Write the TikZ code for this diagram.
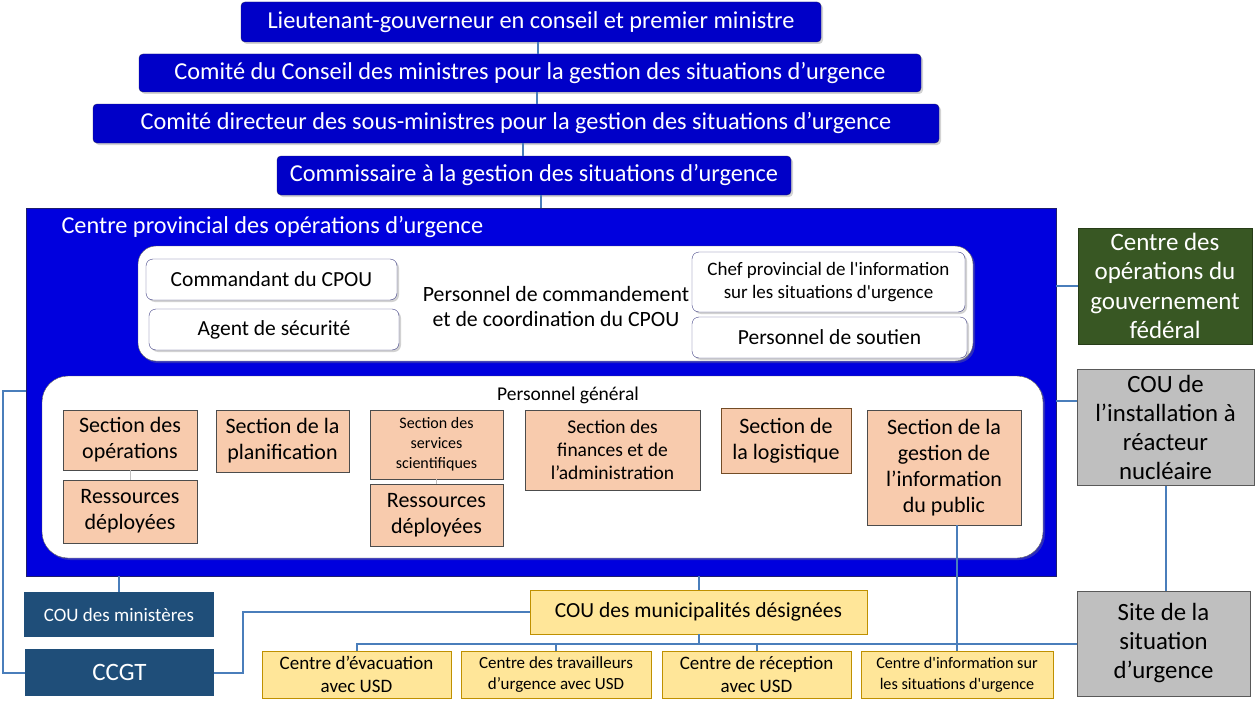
\documentclass[tikz,border=0pt]{standalone}
\usepackage{fontspec}
\setmainfont{Carlito}
\usetikzlibrary{shadows,calc}

\definecolor{cpoublue}{RGB}{0,0,222}
\definecolor{topblue}{RGB}{0,0,200}
\definecolor{navyline}{RGB}{30,30,110}
\definecolor{linkblue}{RGB}{74,126,187}
\definecolor{salmon}{RGB}{248,203,173}
\definecolor{fedgreen}{RGB}{56,87,35}
\definecolor{sitegray}{RGB}{191,191,191}
\definecolor{minblue}{RGB}{31,78,121}
\definecolor{munyellow}{RGB}{255,230,153}
\definecolor{mungold}{RGB}{191,144,0}

\newcommand{\fsz}[2]{\fontsize{#1}{#2}\selectfont}

\tikzset{
  softshadow/.style={drop shadow={opacity=0.35,shadow xshift=2pt,shadow yshift=-2pt}},
  topbox/.style={draw=navyline, fill=topblue, text=white, rounded corners=4pt,
    inner sep=0pt, font=\fsz{24.3}{28}, softshadow},
  panel/.style={draw=gray!70!black, fill=white, rounded corners=18pt, inner sep=0pt, softshadow},
  cmdbox/.style={draw=navyline!85, fill=white, rounded corners=7pt, inner sep=0pt,
    align=center, font=\fsz{21.5}{24}, softshadow},
  secbox/.style={draw=black!70, fill=salmon, inner sep=0pt, align=center, font=\fsz{22}{26}},
  fedbox/.style={draw=fedgreen!70!black, fill=fedgreen, text=white, inner sep=0pt,
    align=center, font=\fsz{25}{29.5}},
  graybox/.style={draw=black!65, fill=sitegray, inner sep=0pt, align=center,
    font=\fsz{24.8}{29}, line width=1pt},
  minbox/.style={fill=minblue, text=white, inner sep=0pt, align=center},
  munbox/.style={draw=mungold, fill=munyellow, inner sep=0pt, align=center},
  link/.style={draw=linkblue, line width=2pt},
  thinlink/.style={draw=black!25, line width=0.6pt}
}

\begin{document}
\begin{tikzpicture}[x=1pt,y=-1pt]
  \useasboundingbox (0,0) rectangle (1259,709);

  % chain of command
  \node[topbox, minimum width=580, minimum height=40] (lgc) at (531,22)
    {Lieutenant-gouverneur en conseil et premier ministre};
  \node[topbox, minimum width=782, minimum height=38] (ccm) at (530,73)
    {Comité du Conseil des ministres pour la gestion des situations d’urgence};
  \node[topbox, minimum width=846, minimum height=39] (cdsm) at (516,123.5)
    {Comité directeur des sous-ministres pour la gestion des situations d’urgence};
  \node[topbox, minimum width=514, minimum height=39] (comm) at (534,175.5)
    {Commissaire à la gestion des situations d’urgence};

  % CPOU
  \node[draw=navyline, fill=cpoublue, minimum width=1030, minimum height=368, inner sep=0pt]
    (cpou) at (541,392) {};
  \node[anchor=west, text=white, font=\fsz{24.3}{28}] (cpoutitle) at (58,227)
    {Centre provincial des opérations d’urgence};

  \foreach \a/\b in {lgc/ccm, ccm/cdsm, cdsm/comm, comm/cpou}
    \draw[link] ($(\a.south)+(7,0)$) -- ($(\a.south |- \b.north)+(7,0)$);

  % command staff
  \node[panel, minimum width=835, minimum height=115] (cmd) at (555.5,303.5) {};
  \node[cmdbox, minimum width=251, minimum height=41] (cmdt) at (271.5,279.5) {Commandant du CPOU};
  \node[cmdbox, minimum width=250, minimum height=41] (agent) at (274,329.5) {Agent de sécurité};
  \node[align=center, font=\fsz{21.8}{25}] (cmdlabel) at (556,307)
    {Personnel de commandement\\et de coordination du CPOU};
  \node[cmdbox, minimum width=273, minimum height=60, font=\fsz{19}{23}] (chef) at (828.5,282)
    {Chef provincial de l\textquotesingle information\\sur les situations d\textquotesingle urgence};
  \node[cmdbox, minimum width=275, minimum height=41] (soutien) at (829.5,337.5) {Personnel de soutien};

  % general staff
  \node[panel, rounded corners=26pt, minimum width=1001, minimum height=182] (gen) at (542.5,467) {};
  \node[font=\fsz{19.5}{22}] (genlabel) at (568,395) {Personnel général};
  \node[secbox, minimum width=134, minimum height=60] (secops) at (130,440) {Section des\\opérations};
  \node[secbox, minimum width=134, minimum height=63] (res1) at (130,511.5) {Ressources\\déployées};
  \node[secbox, minimum width=133, minimum height=62] (secplan) at (282.5,441) {Section de la\\planification};
  \node[secbox, minimum width=133, minimum height=69, font=\fsz{16}{20}] (secsci) at (436.5,444.5)
    {Section des\\services\\scientifiques};
  \node[secbox, minimum width=133, minimum height=62] (res2) at (436.5,515) {Ressources\\déployées};
  \node[secbox, minimum width=175, minimum height=80, font=\fsz{19.5}{23}] (secfin) at (612.5,450)
    {Section des\\finances et de\\l’administration};
  \node[secbox, draw=brown!60!black, line width=1pt, minimum width=130, minimum height=65] (seclog) at (786,440.5)
    {Section de\\la logistique};
  \node[secbox, minimum width=154, minimum height=115] (secinfo) at (944,467.5)
    {Section de la\\gestion de\\l’information\\du public};
  \draw[thinlink] (secops) -- (res1);
  \draw[thinlink] (secsci) -- (res2);

  % outside partners
  \node[fedbox, minimum width=174, minimum height=116] (cogf) at (1165,286)
    {Centre des\\opérations du\\gouvernement\\fédéral};
  \node[graybox, minimum width=177, minimum height=116] (couinst) at (1165.5,427)
    {COU de\\l’installation à\\réacteur\\nucléaire};
  \node[graybox, minimum width=173, minimum height=105] (site) at (1163.5,643.5)
    {Site de la\\situation\\d’urgence};

  \node[minbox, minimum width=190, minimum height=45, font=\fsz{19}{22}] (coumin) at (119,614.5) {COU des ministères};
  \node[minbox, minimum width=189, minimum height=47, font=\fsz{25}{28}] (ccgt) at (119.5,672.5) {CCGT};
  \node[munbox, minimum width=337, minimum height=44, font=\fsz{21.5}{25}] (coumun) at (698.5,612)
    {COU des municipalités désignées};
  \node[munbox, minimum width=189, minimum height=47, font=\fsz{19}{23}] (cevac) at (356.5,674.5)
    {Centre d’évacuation\\avec USD};
  \node[munbox, minimum width=190, minimum height=47, font=\fsz{17}{21}] (ctrav) at (556,674.5)
    {Centre des travailleurs\\d’urgence avec USD};
  \node[munbox, minimum width=189, minimum height=47, font=\fsz{19}{23}] (crecep) at (756.5,674.5)
    {Centre de réception\\avec USD};
  \node[munbox, minimum width=192, minimum height=47, font=\fsz{16.2}{21}] (cinfo) at (957,674.5)
    {Centre d\textquotesingle information sur\\les situations d\textquotesingle urgence};

  % connectors
  \coordinate (leftrail) at (3,391);
  \draw[link] (cpou.west |- leftrail) -- (leftrail) |- (ccgt.west);
  \draw[link] (ccgt.east) -- ++(29,0) |- (coumun.west);
  \draw[link] (cpou.south -| coumin.north) -- (coumin.north);
  \draw[link] (cpou.south -| coumun.north) -- (coumun.north);
  \draw[link] (cevac.north) |- (site.west);
  \draw[link] (ctrav.north) -- (ctrav.north |- site.west);
  \draw[link] (crecep.north) -- (crecep.north |- site.west);
  \draw[link] (coumun.south) -- (coumun.south |- site.west);
  \draw[link] (cinfo.north) -- (cinfo.north |- secinfo.south);
  \draw[link] (cpou.east |- cogf.west) -- (cogf.west);
  \draw[link] ([yshift=26pt]couinst.west) -- ([yshift=26pt]couinst.west -| cpou.east);
  \draw[link] (couinst.south) -- (couinst.south |- site.north);
\end{tikzpicture}
\end{document}
